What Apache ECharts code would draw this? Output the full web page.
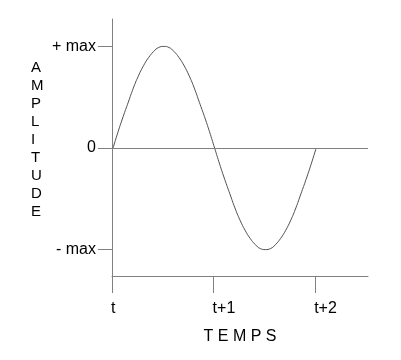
<!DOCTYPE html>
<html>
<head>
<meta charset="utf-8">
<script src="https://cdn.jsdelivr.net/npm/echarts@6/dist/echarts.min.js"></script>
<style>html,body{margin:0;padding:0;background:#fff}#c{width:401px;height:360px}</style>
</head>
<body>
<div id="c"></div>
<script>
// time positions (in periods) and amplitude
var times = [0.01, 0.06, 0.11, 0.16, 0.21, 0.26, 0.31, 0.36, 0.41, 0.46, 0.51, 0.56, 0.61, 0.66, 0.71, 0.76, 0.81, 0.86, 0.91, 0.96,
             1.01, 1.06, 1.11, 1.16, 1.21, 1.26, 1.31, 1.36, 1.41, 1.46, 1.51, 1.56, 1.61, 1.66, 1.71, 1.76, 1.81, 1.86, 1.91, 1.96, 2.01];
var amplitude = [0, 0.16, 0.31, 0.45, 0.59, 0.71, 0.81, 0.89, 0.95, 0.99, 1.0, 0.99, 0.95, 0.89, 0.81, 0.71, 0.59, 0.45, 0.31, 0.16,
                 0, -0.16, -0.31, -0.45, -0.59, -0.71, -0.81, -0.89, -0.95, -0.99, -1.0, -0.99, -0.95, -0.89, -0.81, -0.71, -0.59, -0.45, -0.31, -0.16, 0];
var xTickValues = [0, 1, 2];
var xTickLabels = ['t', 't+1', 't+2'];
var yTickValues = [-1, 0, 1];
var yTickLabels = ['- max', '0', '+ max'];
var xTitle = 'T E M P S';
var yTitle = 'AMPLITUDE';

var chart = echarts.init(document.getElementById('c'), null, {renderer: 'canvas'});
var axisColor = '#808080';
var font = 'Arial, "Liberation Sans", sans-serif';
chart.setOption({
  animation: false,
  backgroundColor: '#fff',
  grid: {left: 112, right: 33, top: 19, bottom: 84, containLabel: false},
  graphic: [{
    type: 'text', left: 31, top: 59,
    style: {
      text: yTitle.split('').join('\n'), fill: '#000', fontSize: 15, fontFamily: font,
      lineHeight: 18, align: 'center', width: 16
    }
  }],
  xAxis: {
    type: 'value', min: 0, max: 2.52,
    splitLine: {show: false},
    axisLine: {show: true, onZero: false, lineStyle: {color: axisColor, width: 1}},
    axisTick: {show: true, inside: false, length: 17, customValues: xTickValues, lineStyle: {color: axisColor}},
    axisLabel: {
      customValues: xTickValues, margin: 25, align: 'left', padding: [0, 0, 0, -1],
      color: '#000', fontSize: 16, fontFamily: font,
      formatter: function (v) { return xTickLabels[xTickValues.indexOf(Math.round(v))]; }
    },
    name: xTitle, nameLocation: 'middle', nameGap: 53,
    nameTextStyle: {color: '#000', fontSize: 16, fontFamily: font}
  },
  yAxis: {
    type: 'value', min: -1.26, max: 1.27,
    splitLine: {show: false},
    axisLine: {show: true, onZero: false, lineStyle: {color: axisColor, width: 1}},
    axisTick: {show: true, inside: false, length: 14, customValues: yTickValues, lineStyle: {color: axisColor}},
    axisLabel: {
      customValues: yTickValues, margin: 16, padding: [0, 0, 6, 0],
      color: '#000', fontSize: 16, fontFamily: font,
      formatter: function (v) { return yTickLabels[yTickValues.indexOf(Math.round(v))]; }
    }
  },
  series: [{
    type: 'line',
    data: times.map(function (t, i) { return [t, amplitude[i]]; }),
    smooth: true,
    showSymbol: false,
    lineStyle: {color: '#505050', width: 1},
    markLine: {
      silent: true, symbol: ['none', 'none'], label: {show: false},
      lineStyle: {color: axisColor, type: 'solid', width: 1},
      data: [{yAxis: 0}]
    }
  }]
});
</script>
</body>
</html>
